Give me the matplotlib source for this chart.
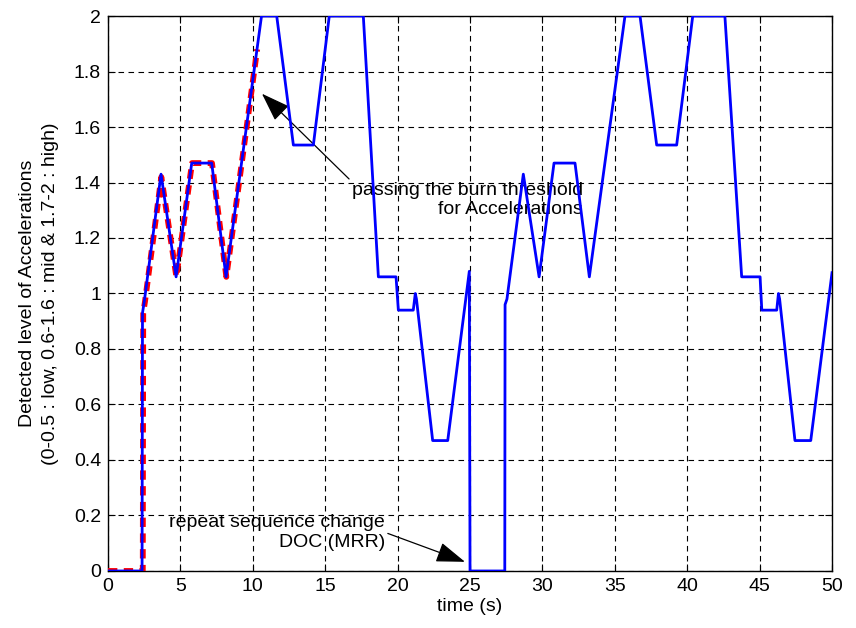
import numpy as np
import matplotlib
matplotlib.use('Agg')
from matplotlib import pyplot as plt

plt.rcParams['font.family'] = ['Liberation Sans', 'DejaVu Sans']

# blue: detected level over the whole run
blue_t = [0, 2.35, 2.38, 2.5, 3.66, 4.7, 5.78, 7.16, 8.15, 10.6, 11.65, 12.8,
          14.18, 15.28, 17.63, 18.67, 19.89, 20.05, 21.08, 21.22, 21.3, 22.42,
          23.46, 24.95, 25.0, 27.4, 27.42, 27.55, 28.68, 29.77, 30.8, 32.25,
          33.24, 35.7, 36.74, 37.89, 39.27, 40.38, 42.6, 43.76, 45.03, 45.15,
          46.18, 46.3, 46.38, 47.44, 48.53, 50.0]
blue_v = [0, 0, 0.93, 0.97, 1.43, 1.06, 1.47, 1.47, 1.06, 2.0, 2.0, 1.535,
          1.535, 2.0, 2.0, 1.06, 1.06, 0.94, 0.94, 1.0, 0.98, 0.47,
          0.47, 1.08, 0.0, 0.0, 0.96, 0.98, 1.43, 1.06, 1.47, 1.47,
          1.06, 2.0, 2.0, 1.535, 1.535, 2.0, 2.0, 1.06, 1.06, 0.94,
          0.94, 1.0, 0.98, 0.47, 0.47, 1.075]

# red dashed: first part only
red_t = [0, 2.4, 2.43, 2.55, 3.68, 4.72, 5.8, 7.18, 8.17, 10.3]
red_v = [0, 0, 0.93, 0.97, 1.42, 1.06, 1.47, 1.47, 1.06, 1.88]

xticks = [0, 5, 10, 15, 20, 25, 30, 35, 40, 45, 50]
yticks = [0, 0.2, 0.4, 0.6, 0.8, 1, 1.2, 1.4, 1.6, 1.8, 2]
ytick_labels = ['0', '0.2', '0.4', '0.6', '0.8', '1', '1.2', '1.4', '1.6', '1.8', '2']

FS = 14


def main():
    fig = plt.figure(figsize=(8.56, 6.28), dpi=100)
    ax = fig.add_axes([0.1262, 0.0908, 0.8458, 0.8837])

    ax.plot(red_t, red_v, color='#ff0000', linewidth=4.2, linestyle=(0, (1.6, 1.1)), zorder=3)
    ax.plot(blue_t, blue_v, color='#0000ff', linewidth=2.0, zorder=4)

    ax.set_xlim(0, 50)
    ax.set_ylim(0, 2)
    ax.set_xticks(xticks)
    ax.set_xticklabels([str(x) for x in xticks])
    ax.set_yticks(yticks)
    ax.set_yticklabels(ytick_labels)
    ax.tick_params(direction='in', labelsize=FS, length=5, width=0.8, top=True, right=True, pad=5)
    ax.grid(True, color='black', linestyle=(0, (5, 4)), linewidth=0.8)
    for s in ax.spines.values():
        s.set_linewidth(1.0)

    ax.set_xlabel('time (s)', fontsize=FS, labelpad=2)
    ax.set_ylabel('Detected level of Accelerations\n(0-0.5 : low, 0.6-1.6 : mid & 1.7-2 : high)',
                  fontsize=FS, labelpad=11, linespacing=1.4)

    ax.annotate('passing the burn threshold\nfor Accelerations',
                xy=(10.63, 1.72), xytext=(32.8, 1.337),
                ha='right', va='center', fontsize=FS, multialignment='right',
                arrowprops=dict(arrowstyle='-|>,head_length=1.0,head_width=0.35',
                                color='black', lw=0.9, mutation_scale=18,
                                shrinkA=0, shrinkB=0, relpos=(0.0, 1.0)),
                zorder=2)
    ax.annotate('repeat sequence change\nDOC (MRR)',
                xy=(24.65, 0.033), xytext=(19.13, 0.139),
                ha='right', va='center', fontsize=FS, multialignment='right',
                arrowprops=dict(arrowstyle='-|>,head_length=1.0,head_width=0.35',
                                color='black', lw=0.9, mutation_scale=18,
                                shrinkA=0, shrinkB=0, relpos=(1.0, 0.5)),
                zorder=2)

    fig.savefig('out.png', dpi=100)


if __name__ == '__main__':
    main()
